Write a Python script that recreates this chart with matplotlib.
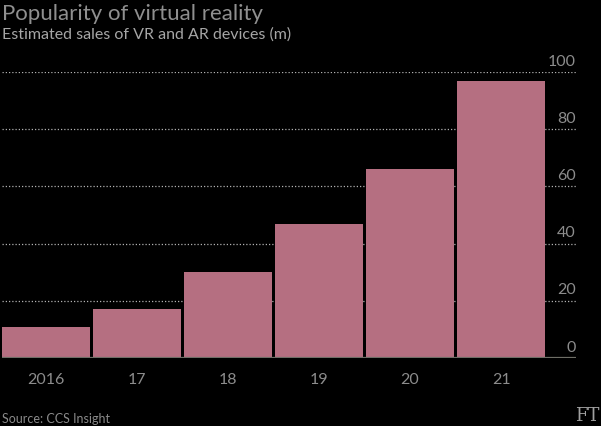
import matplotlib.pyplot as plt
import matplotlib.transforms as mtransforms

# data
years = ['2016', '17', '18', '19', '20', '21']
sales = [11, 17, 30, 47, 66, 97]
yticks = [0, 20, 40, 60, 80, 100]

bar_col = '#b56f81'
txt_col = '#8c8c8c'

plt.rcParams['font.family'] = ['Lato', 'DejaVu Sans']

fig = plt.figure(figsize=(6.01, 4.26), dpi=100, facecolor='black')
ax = fig.add_axes([2/601, 68/426, 574/601, 286/426], facecolor='black')

x = list(range(len(years)))
for t in yticks[1:]:
    ax.axhline(t, color='#b0b0b0', lw=0.9, ls=(0, (1, 1.6)), zorder=1)
ax.bar(x, sales, width=0.97, color=bar_col, zorder=2)
ax.axhline(0, color='#6e6e66', lw=1.6, zorder=3)

ax.set_xlim(-0.485, 5.824)
ax.set_ylim(0, 100)
for s in ax.spines.values():
    s.set_visible(False)
ax.set_xticks([])
ax.set_yticks([])

# y labels sit right-aligned above the grid lines
trans = mtransforms.blended_transform_factory(ax.transAxes, ax.transData)
for t in yticks:
    ax.text(1.0, t + 1.2, str(t), transform=trans, ha='right', va='bottom',
            color=txt_col, fontsize=11.5)

for xi, lab in zip(x, years):
    ax.text(xi, -7.7, lab, ha='center', va='center', color=txt_col, fontsize=11.5)

fig.text(2/601, 1 - 14/426, 'Popularity of virtual reality', ha='left', va='center',
         color='#8f8f8f', fontsize=16)
fig.text(2/601, 1 - 35/426, 'Estimated sales of VR and AR devices (m)', ha='left',
         va='center', color='#a6a6a6', fontsize=11.5)
fig.text(2/601, 1 - 419/426, 'Source: CCS Insight', ha='left', va='center',
         color='#8a8a8a', fontsize=9)
fig.text(1 - 2/601, 1 - 416/426, 'FT', ha='right', va='center', color='#a0a0a0',
         fontsize=13, family='DejaVu Serif')

fig.savefig('out.png', dpi=100, facecolor='black')
